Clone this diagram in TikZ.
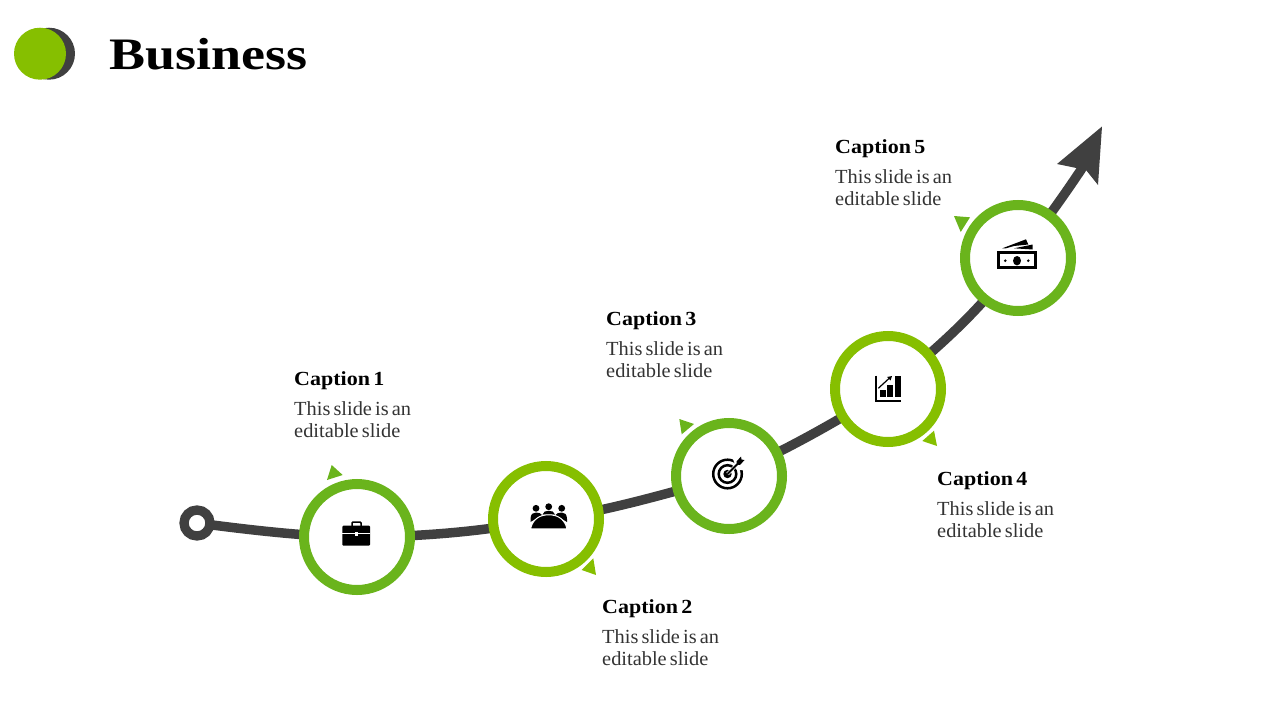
\documentclass[tikz,border=0pt]{standalone}
\usepackage{fontspec}
\setmainfont{Liberation Serif}
\newfontfamily\titlefont[FakeStretch=1.2]{Liberation Serif Bold}
\newfontfamily\capfont[FakeStretch=1.1,WordSpace=0.6]{Liberation Serif Bold}
\newfontfamily\bodyfont[FakeStretch=1.02,WordSpace=0.6]{Liberation Serif}
\usetikzlibrary{backgrounds}
\definecolor{gdark}{HTML}{6AB41C}
\definecolor{glight}{HTML}{86BF00}
\definecolor{road}{HTML}{404040}
\tikzset{
  ring/.style={circle,draw=#1,fill=white,line width=10pt,minimum size=106pt,inner sep=0pt},
  startring/.style={circle,draw=road,fill=white,line width=9.3pt,minimum size=26pt,inner sep=0pt},
  capt/.style={anchor=base west,inner sep=0pt,font=\capfont\fontsize{20}{22}\selectfont,text=black},
  bodytxt/.style={anchor=base west,inner sep=0pt,font=\bodyfont\fontsize{20}{22}\selectfont,text=black!80},
  ttl/.style={anchor=base west,inner sep=0pt,font=\titlefont\fontsize{45}{50}\selectfont,text=black},
  roadline/.style={draw=road,line width=9.5pt},
}
\begin{document}
\begin{tikzpicture}[x=1pt,y=-1pt]
\useasboundingbox (0,0) rectangle (1280,720);
% header
\fill[road] (49,53.7) circle (26);
\fill[glight] (40,53.7) circle (26);
\node[ttl] (title) at (109,69) {Business};
% rings
\node[startring] (s) at (197,523) {};
\node[ring=gdark] (c1) at (357,537) {};
\node[ring=glight] (c2) at (546,519) {};
\node[ring=gdark] (c3) at (729,476) {};
\node[ring=glight] (c4) at (888,389) {};
\node[ring=gdark] (c5) at (1018,258) {};
\coordinate (tipbase) at (1090,156);
\begin{pgfonlayer}{background}
\draw[roadline] (s.center) .. controls (250,530) and (310,537) .. (c1.center)
  .. controls (420,537) and (490,531) .. (c2.center)
  .. controls (590,515) and (660,496) .. (c3.center)
  .. controls (790,448) and (840,420) .. (c4.center)
  .. controls (935,350) and (980,312) .. (c5.center)
  .. controls (1040,228) and (1065,195) .. (tipbase);
\end{pgfonlayer}
\fill[road] (1102,126.5) -- (1098,185) -- (1086,170) -- (1057,164) -- cycle;
% small triangles
\fill[gdark] (331.7,465) -- (342.7,475) -- (327,480) -- cycle;
\fill[glight] (581.7,570) -- (593.3,558.3) -- (596,575) -- cycle;
\fill[gdark] (679.3,419) -- (694,424) -- (681.7,434.3) -- cycle;
\fill[glight] (922.3,441) -- (934,430.7) -- (937,446) -- cycle;
\fill[gdark] (954,216) -- (970,217.3) -- (960.7,232) -- cycle;
% briefcase
\draw[black,line width=1.5pt,rounded corners=1pt] (352,526) -- (352,522) -- (361,522) -- (361,526);
\fill[black,rounded corners=1pt] (342.3,525.7) rectangle (370,545.7);
\draw[white,line width=1pt] (342.3,533.5) -- (370,533.5);
\fill[white] (354.5,532) rectangle (358,535.5);
% people
\foreach \p in {(536,508.3),(548.7,506.7),(561.7,508.3)} \fill[black] \p circle (3.4);
\fill[black] (530.5,519) .. controls (530.5,514) and (533,512.5) .. (536,512.5) .. controls (539,512.5) and (541,513.5) .. (542,515) -- (530.5,522) -- cycle;
\fill[black] (567,519) .. controls (567,514) and (564.5,512.5) .. (561.7,512.5) .. controls (558.5,512.5) and (556.5,513.5) .. (555.5,515) -- (567,522) -- cycle;
\fill[black] (542.5,514.5) .. controls (543,511.5) and (546,510.8) .. (548.7,510.8) .. controls (551.5,510.8) and (554.5,511.5) .. (555,514.5) -- cycle;
\fill[black,draw=white,line width=1pt] (530.5,528.8) .. controls (533,518) and (541,514.8) .. (548.7,514.8) .. controls (556.5,514.8) and (564.5,518) .. (567,528.8) -- cycle;
% target
\draw[black,line width=2.5pt] (727.5,474) circle (14.3);
\draw[black,line width=2.5pt] (727.5,474) circle (8.8);
\fill[black] (727.5,474) circle (4.2);
\fill[white] (733,459) -- (746,459) -- (746,470) -- (737,470) -- cycle;
\draw[white,line width=3.5pt] (727.5,474) -- (741,460.5);
\draw[black,line width=1.8pt] (727.5,474) -- (741,460.5);
\fill[black] (736.5,461.5) -- (741,456.5) -- (741.5,459.5) -- (744.5,460) -- (740,465) -- (737,464.5) -- cycle;
% chart
\draw[black,line width=2pt] (875.7,375.7) -- (875.7,400.5) -- (900.7,400.5);
\fill[black] (880,390) rectangle (885.5,397);
\fill[black] (887,385) rectangle (892.5,397);
\fill[black] (894.5,376) rectangle (900.5,397);
\draw[black,line width=1.2pt] (878.3,388.3) -- (889.5,378);
\fill[black] (892,376) -- (887,377) -- (890.5,380.5) -- cycle;
% money
\draw[black,line width=3pt] (998.8,252.5) rectangle (1035.8,267.8);
\fill[black] (1017,260.7) ellipse (4 and 4.7);
\fill[black] (1005.3,260.7) circle (1.4);
\fill[black] (1028.3,260.7) circle (1.4);
\fill[black] (1002.3,248.3) -- (1026,239.3) -- (1028.3,244.5) -- (1014,246) -- (1006,248.3) -- cycle;
\fill[black] (1014,248.3) -- (1032.7,244.5) -- (1032.7,249.5) -- cycle;
% captions
\node[capt] (cap1) at (294,385) {Caption 1};
\node[bodytxt] (b1a) at (294,415) {This slide is an};
\node[bodytxt] (b1b) at (294,437) {editable slide};
\node[capt] (cap2) at (602,613) {Caption 2};
\node[bodytxt] (b2a) at (602,643) {This slide is an};
\node[bodytxt] (b2b) at (602,665) {editable slide};
\node[capt] (cap3) at (606,325) {Caption 3};
\node[bodytxt] (b3a) at (606,355) {This slide is an};
\node[bodytxt] (b3b) at (606,377) {editable slide};
\node[capt] (cap4) at (937,485) {Caption 4};
\node[bodytxt] (b4a) at (937,515) {This slide is an};
\node[bodytxt] (b4b) at (937,537) {editable slide};
\node[capt] (cap5) at (835,153) {Caption 5};
\node[bodytxt] (b5a) at (835,183) {This slide is an};
\node[bodytxt] (b5b) at (835,205) {editable slide};
\end{tikzpicture}
\end{document}
